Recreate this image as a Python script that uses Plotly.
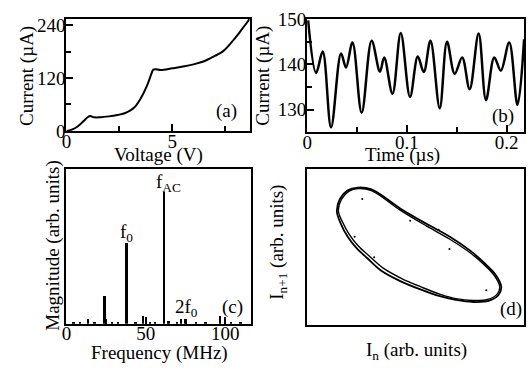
import plotly.graph_objects as go

SERIF = "Liberation Serif"
W, H = 532, 380

# ---------------- data ----------------
# (a) I-V curve
voltage = [0, 0.25, 0.53, 0.8, 1.0, 1.12, 1.3, 1.6, 2.0, 2.4, 2.75, 3.0, 3.2, 3.5, 3.8,
           4.0, 4.1, 4.2, 4.45, 5.0, 5.5, 6.0, 6.5, 7.0, 7.4, 7.9, 8.15, 8.4, 8.65]
current_iv = [0, 3, 10, 22, 31, 34, 31, 31, 33, 36, 40, 46, 53, 73, 102,
              128, 139, 140, 138, 142, 146, 151, 158, 170, 181, 207, 222, 238, 254]

# (b) current vs time
time_us = [0.001, 0.009, 0.0156, 0.024, 0.034, 0.039, 0.0455, 0.0547, 0.0647, 0.073,
           0.0773, 0.0856, 0.0939, 0.1032, 0.111, 0.117, 0.1237, 0.133, 0.1403, 0.148,
           0.1555, 0.163, 0.172, 0.1794, 0.1877, 0.1943, 0.2027, 0.211, 0.2176]
current_t = [149.7, 138.1, 142.8, 126.1, 142.4, 139.3, 144.8, 129.3, 145.2, 138.4,
             141.5, 133.5, 146.9, 132.8, 141.7, 138.3, 145.2, 130.3, 145.0, 137.9,
             141.5, 134.5, 146.8, 132.1, 141.5, 138.6, 144.8, 131.0, 145.5]

# (c) spectrum
freq_mhz = [5, 9, 14, 18, 24.4, 29, 33, 38.2, 44, 48.8, 53, 56, 62.0, 64.8, 70,
            72.7, 75.4, 82, 88, 97, 104, 110]
magnitude = [0.01, 0.012, 0.035, 0.01, 0.18, 0.012, 0.01, 0.52, 0.012, 0.05, 0.015, 0.012,
             0.85, 0.02, 0.012, 0.03, 0.03, 0.01, 0.012, 0.05, 0.012, 0.01]

# (d) return map (two passes of the loop + stray points)
loop1_x = [0.137, 0.151, 0.187, 0.233, 0.297, 0.429, 0.548, 0.658, 0.753, 0.813, 0.868, 0.895,
           0.881, 0.836, 0.767, 0.685, 0.612, 0.525, 0.429, 0.342, 0.279, 0.228, 0.187, 0.155, 0.137]
loop1_y = [0.727, 0.806, 0.861, 0.879, 0.867, 0.745, 0.648, 0.564, 0.473, 0.400, 0.321, 0.242,
           0.188, 0.152, 0.145, 0.158, 0.182, 0.224, 0.279, 0.345, 0.424, 0.491, 0.564, 0.648, 0.727]
loop2_x = [0.144, 0.158, 0.192, 0.235, 0.299, 0.427, 0.546, 0.656, 0.751, 0.811, 0.863, 0.888,
           0.875, 0.831, 0.765, 0.685, 0.614, 0.528, 0.434, 0.349, 0.286, 0.235, 0.194, 0.162, 0.144]
loop2_y = [0.727, 0.803, 0.855, 0.873, 0.858, 0.736, 0.636, 0.549, 0.461, 0.391, 0.315, 0.242,
           0.194, 0.161, 0.155, 0.167, 0.194, 0.240, 0.297, 0.364, 0.440, 0.506, 0.579, 0.661, 0.727]
stray_x = [0.254, 0.656, 0.309, 0.219, 0.475, 0.606, 0.826]
stray_y = [0.806, 0.485, 0.432, 0.564, 0.667, 0.608, 0.220]

# ---------------- figure ----------------
fig = go.Figure()
fig.add_trace(go.Scatter(x=voltage, y=current_iv, mode="lines", line=dict(color="black", width=2, shape="spline"),
                         xaxis="x", yaxis="y", showlegend=False))
fig.add_trace(go.Scatter(x=time_us, y=current_t, mode="lines", line=dict(color="black", width=2.5, shape="spline", smoothing=1.0),
                         xaxis="x2", yaxis="y2", showlegend=False))
fig.add_trace(go.Bar(x=freq_mhz, y=magnitude, width=1.2, marker=dict(color="black", line=dict(width=0)),
                     xaxis="x3", yaxis="y3", showlegend=False))
fig.add_trace(go.Scatter(x=loop1_x, y=loop1_y, mode="lines", line=dict(color="black", width=1.8, shape="spline"),
                         xaxis="x4", yaxis="y4", showlegend=False))
fig.add_trace(go.Scatter(x=loop2_x, y=loop2_y, mode="lines", line=dict(color="black", width=1.4, shape="spline"),
                         xaxis="x4", yaxis="y4", showlegend=False))
fig.add_trace(go.Scatter(x=stray_x, y=stray_y, mode="markers", marker=dict(color="black", size=2),
                         xaxis="x4", yaxis="y4", showlegend=False))


def dx(px):
    return px / W


def dy(py):
    return 1 - py / H


common = dict(showline=True, linewidth=2, linecolor="black", mirror=True, ticks="inside", ticklen=7,
              tickwidth=1.5, tickcolor="black", showgrid=False, zeroline=False,
              tickfont=dict(family=SERIF, size=19, color="black"))
xstand = dict(ticklabelstandoff=-8)
ystand = dict(ticklabelstandoff=-5)

fig.update_layout(
    width=W, height=H, margin=dict(l=0, r=0, t=0, b=0),
    paper_bgcolor="white", plot_bgcolor="white", bargap=0,
    xaxis=dict(domain=[dx(62), dx(247)], anchor="y", range=[0, 8.65], dtick=5, tick0=0,
               minor=dict(dtick=2.5, ticks="inside", ticklen=5, tickcolor="black"), **common, **xstand),
    yaxis=dict(domain=[dy(128), dy(9)], anchor="x", range=[0, 255], dtick=120, tick0=0,
               minor=dict(dtick=60, ticks="inside", ticklen=5, tickcolor="black"), **common, **ystand),
    xaxis2=dict(domain=[dx(305), dx(524)], anchor="y2", range=[0, 0.2176], dtick=0.1, tick0=0,
                minor=dict(dtick=0.05, ticks="inside", ticklen=5, tickcolor="black"), **common, **xstand),
    yaxis2=dict(domain=[dy(129), dy(9)], anchor="x2", range=[125.1, 150.1], dtick=10, tick0=130,
                minor=dict(dtick=5, ticks="inside", ticklen=5, tickcolor="black"), **common, **ystand),
    xaxis3=dict(domain=[dx(62), dx(248)], anchor="y3", range=[0, 116], dtick=50, tick0=0,
                minor=dict(dtick=25, ticks="inside", ticklen=5, tickcolor="black"), **common, **xstand),
    yaxis3=dict(domain=[dy(332), dy(168)], anchor="x3", range=[0, 1], showticklabels=False,
                showline=True, linewidth=2, linecolor="black", mirror=True, ticks="",
                showgrid=False, zeroline=False),
    xaxis4=dict(domain=[dx(305), dx(524)], anchor="y4", range=[0, 1], showticklabels=False,
                showline=True, linewidth=2, linecolor="black", mirror=True, ticks="",
                showgrid=False, zeroline=False),
    yaxis4=dict(domain=[dy(333), dy(168)], anchor="x4", range=[0, 1], showticklabels=False,
                showline=True, linewidth=2, linecolor="black", mirror=True, ticks="",
                showgrid=False, zeroline=False),
)


def label(text, x, y, angle=0, size=19):
    fig.add_annotation(text=text, x=dx(x), y=dy(y), xref="paper", yref="paper", showarrow=False,
                       textangle=angle, xanchor="center", yanchor="middle",
                       font=dict(family=SERIF, size=size, color="black"))


# axis titles
label("Current (µA)", 22, 70, angle=-90)
label("Voltage (V)", 155, 154)
label("Current (µA)", 261, 70, angle=-90)
label("Time (µs)", 401, 153)
label("Magnitude (arb. units)", 49, 250, angle=-90)
label("Frequency (MHz)", 156, 363)
label("I<sub>n+1</sub> (arb. units)", 276, 246, angle=-90)
label("I<sub>n</sub> (arb. units)", 415, 361)

# panel tags
label("(a)", 224, 107)
label("(b)", 503, 112)
label("(c)", 230, 314)
label("(d)", 511, 317)

# spectral line labels
label("f<sub>AC</sub>", 165, 183)
label("f<sub>0</sub>", 123, 236)
label("2f<sub>0</sub>", 183, 315)

fig.write_html("out.html")
